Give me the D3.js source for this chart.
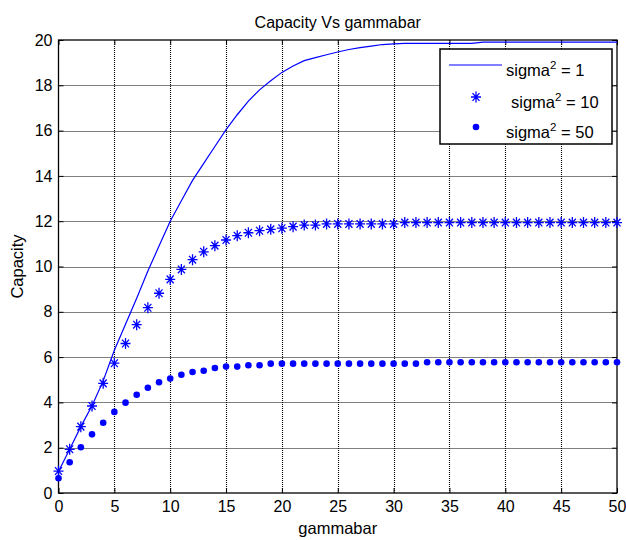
<!DOCTYPE html>
<html>
<head>
<meta charset="utf-8">
<script src="https://cdn.jsdelivr.net/npm/d3@7"></script>
<style>
  body { margin: 0; background: #fff; }
  svg { display: block; font-family: Arial, "Liberation Sans", sans-serif; }
</style>
</head>
<body>
<div id="chart"></div>
<script>
// gammabar samples
const gammabar = [0, 1, 2, 3, 4, 5, 6, 7, 8, 9, 10, 11, 12, 13, 14, 15, 16, 17, 18, 19, 20,
  21, 22, 23, 24, 25, 26, 27, 28, 29, 30, 31, 32, 33, 34, 35, 36, 37, 38, 39, 40,
  41, 42, 43, 44, 45, 46, 47, 48, 49, 50];

// sigma^2 = 1 (solid line)
const sigma1 = [0.95, 1.93, 2.93, 3.85, 4.95, 6.3, 7.45, 8.6, 9.8, 10.9, 12.0,
  12.9, 13.8, 14.55, 15.3, 16.04, 16.7, 17.3, 17.8, 18.2, 18.57,
  18.85, 19.09, 19.22, 19.35, 19.47, 19.58, 19.66, 19.73, 19.8, 19.83,
  19.85, 19.85, 19.85, 19.85, 19.85, 19.85, 19.85, 19.91, 19.91, 19.91,
  19.91, 19.91, 19.91, 19.91, 19.91, 19.91, 19.91, 19.91, 19.91, 19.91];

// sigma^2 = 10 (stars)
const sigma10 = [0.97, 1.93, 2.93, 3.84, 4.84, 5.73, 6.6, 7.43, 8.18, 8.82, 9.43,
  9.87, 10.3, 10.65, 10.92, 11.17, 11.36, 11.49, 11.58, 11.64, 11.69,
  11.76, 11.83, 11.83, 11.88, 11.88, 11.88, 11.88, 11.88, 11.88, 11.88,
  11.94, 11.94, 11.94, 11.94, 11.94, 11.94, 11.94, 11.94, 11.94, 11.94,
  11.94, 11.94, 11.94, 11.94, 11.94, 11.94, 11.94, 11.94, 11.94, 11.94];

// sigma^2 = 50 (dots)
const sigma50 = [0.65, 1.36, 2.02, 2.59, 3.1, 3.58, 3.99, 4.34, 4.65, 4.89, 5.05,
  5.22, 5.34, 5.4, 5.52, 5.58, 5.58, 5.64, 5.64, 5.71, 5.71,
  5.71, 5.71, 5.71, 5.71, 5.71, 5.71, 5.71, 5.71, 5.71, 5.71,
  5.71, 5.71, 5.77, 5.77, 5.77, 5.77, 5.77, 5.77, 5.77, 5.77,
  5.77, 5.77, 5.77, 5.77, 5.77, 5.77, 5.77, 5.77, 5.77, 5.77];

const xTicks = [0, 5, 10, 15, 20, 25, 30, 35, 40, 45, 50];
const yTicks = [0, 2, 4, 6, 8, 10, 12, 14, 16, 18, 20];
const legendLabels = ["1", "10", "50"];

const width = 626, height = 540;
const margin = {top: 40, right: 9, bottom: 47, left: 58.5};
const blue = "#0000ff";

const svg = d3.select("#chart").append("svg")
    .attr("width", width)
    .attr("height", height);

const x = d3.scaleLinear().domain([0, 50]).range([margin.left, width - margin.right]);
const y = d3.scaleLinear().domain([0, 20]).range([height - margin.bottom, margin.top]);

// grid (dotted)
const grid = svg.append("g")
    .attr("stroke", "#000")
    .attr("stroke-width", 1.1)
    .attr("stroke-dasharray", "1,1");
grid.selectAll("line.gx")
  .data(xTicks.slice(1, -1))
  .join("line")
    .attr("class", "gx")
    .attr("x1", d => Math.round(x(d)) + 0.5).attr("x2", d => Math.round(x(d)) + 0.5)
    .attr("y1", y(20)).attr("y2", y(0));
grid.selectAll("line.gy")
  .data(yTicks.slice(1, -1))
  .join("line")
    .attr("class", "gy")
    .attr("y1", d => Math.round(y(d)) + 0.5).attr("y2", d => Math.round(y(d)) + 0.5)
    .attr("x1", x(0)).attr("x2", x(50));

// axes, ticks pointing inward like matlab
const fontSize = 16;
function styleAxis(g) {
  g.select(".domain").remove();
  g.selectAll(".tick line").attr("stroke", "#000");
  g.selectAll(".tick text").attr("font-size", fontSize).attr("fill", "#000");
}
svg.append("g")
    .attr("transform", `translate(0,${y(0)})`)
    .call(d3.axisBottom(x).tickValues(xTicks).tickSize(-5).tickPadding(8))
    .call(styleAxis);
svg.append("g")
    .attr("transform", `translate(0,${y(20)})`)
    .call(d3.axisTop(x).tickValues(xTicks).tickSize(-5).tickFormat(""))
    .call(styleAxis);
svg.append("g")
    .attr("transform", `translate(${x(0)},0)`)
    .call(d3.axisLeft(y).tickValues(yTicks).tickSize(-5).tickPadding(6))
    .call(styleAxis);
svg.append("g")
    .attr("transform", `translate(${x(50)},0)`)
    .call(d3.axisRight(y).tickValues(yTicks).tickSize(-5).tickFormat(""))
    .call(styleAxis);

// frame
svg.append("rect")
    .attr("x", x(0)).attr("y", y(20))
    .attr("width", x(50) - x(0)).attr("height", y(0) - y(20))
    .attr("fill", "none").attr("stroke", "#000").attr("stroke-width", 1.3);

// star marker: plus + x
function starPath(rx, ry) {
  const dx = rx * 0.7, dy = ry * 0.7;
  return `M${-rx},0H${rx}M0,${-ry}V${ry}M${-dx},${-dy}L${dx},${dy}M${-dx},${dy}L${dx},${-dy}`;
}

// series
const line = d3.line()
    .x((d, i) => x(gammabar[i]))
    .y(d => y(d));

svg.append("path")
    .datum(sigma1)
    .attr("fill", "none")
    .attr("stroke", blue)
    .attr("stroke-width", 1.2)
    .attr("d", line);

svg.append("g").selectAll("path")
  .data(sigma10)
  .join("path")
    .attr("transform", (d, i) => `translate(${x(gammabar[i])},${y(d)})`)
    .attr("d", starPath(5, 5.5))
    .attr("fill", "none")
    .attr("stroke", blue)
    .attr("stroke-width", 1.3);

svg.append("g").selectAll("circle")
  .data(sigma50)
  .join("circle")
    .attr("cx", (d, i) => x(gammabar[i]))
    .attr("cy", d => y(d))
    .attr("r", 3.3)
    .attr("fill", blue);

// titles
svg.append("text")
    .attr("x", (x(0) + x(50)) / 2)
    .attr("y", 28)
    .attr("text-anchor", "middle")
    .attr("font-size", 16)
    .text("Capacity Vs gammabar");

svg.append("text")
    .attr("x", (x(0) + x(50)) / 2)
    .attr("y", 534)
    .attr("text-anchor", "middle")
    .attr("font-size", 16.5)
    .text("gammabar");

svg.append("text")
    .attr("transform", `translate(23,${(y(0) + y(20)) / 2}) rotate(-90)`)
    .attr("text-anchor", "middle")
    .attr("font-size", 16.5)
    .text("Capacity");

// legend
const lg = svg.append("g");
lg.append("rect")
    .attr("x", 440).attr("y", 49)
    .attr("width", 172).attr("height", 95)
    .attr("fill", "#fff").attr("stroke", "#000").attr("stroke-width", 1.5);

const rowY = [65, 97, 127];
const textX = [506, 511, 506];

lg.append("line")
    .attr("x1", 449).attr("x2", 502)
    .attr("y1", rowY[0]).attr("y2", rowY[0])
    .attr("stroke", blue).attr("stroke-width", 1.2);
lg.append("path")
    .attr("transform", `translate(476,${rowY[1]})`)
    .attr("d", starPath(5, 5.5))
    .attr("fill", "none").attr("stroke", blue).attr("stroke-width", 1.3);
lg.append("circle")
    .attr("cx", 476).attr("cy", rowY[2]).attr("r", 3.3).attr("fill", blue);

legendLabels.forEach((lab, i) => {
  const t = lg.append("text")
      .attr("x", textX[i])
      .attr("y", rowY[i] + 11)
      .attr("font-size", 16.5);
  t.append("tspan").text("sigma");
  t.append("tspan").attr("dy", -7).attr("font-size", 11.5).text("2");
  t.append("tspan").attr("dy", 7).text(" = " + lab);
});
</script>
</body>
</html>
